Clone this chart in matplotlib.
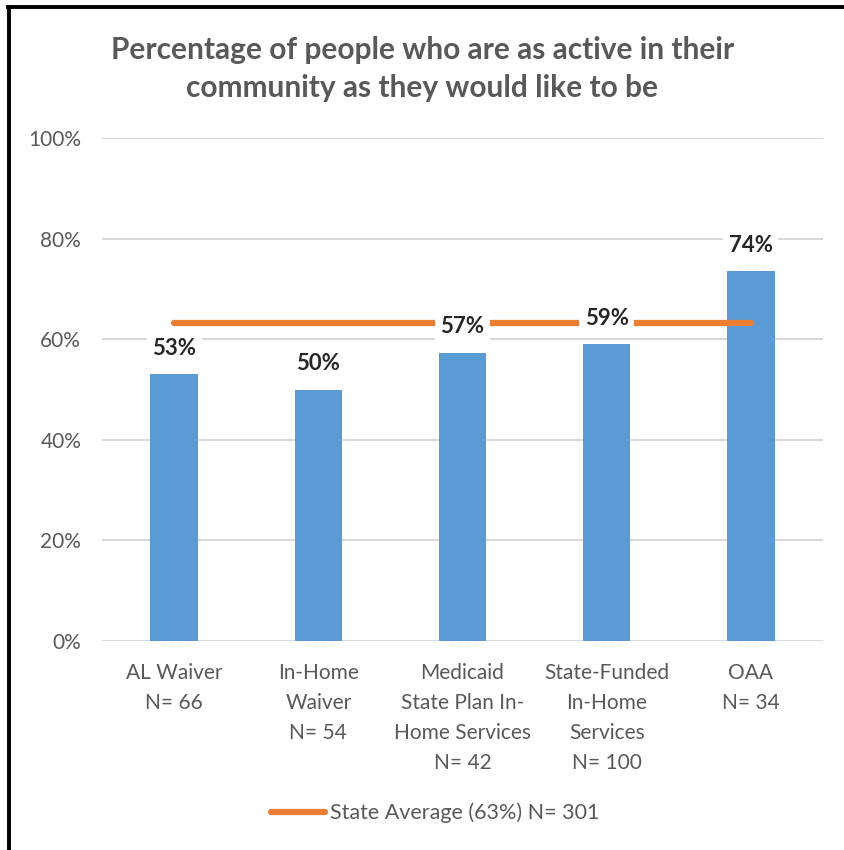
import matplotlib.pyplot as plt
from matplotlib.lines import Line2D
from matplotlib.ticker import PercentFormatter

plt.rcParams["font.family"] = ["Lato", "DejaVu Sans"]

categories = [
    "AL Waiver\nN= 66",
    "In-Home\nWaiver\nN= 54",
    "Medicaid\nState Plan In-\nHome Services\nN= 42",
    "State-Funded\nIn-Home\nServices\nN= 100",
    "OAA\nN= 34",
]
values = [0.53, 0.50, 0.573, 0.59, 0.735]
value_labels = ["53%", "50%", "57%", "59%", "74%"]
state_average = 0.632
legend_label = "State Average (63%) N= 301"
title = "Percentage of people who are as active in their\ncommunity as they would like to be"

BLUE = "#5B9BD5"
ORANGE = "#ED7D31"
GREY_TEXT = "#595959"
GRID = "#D9D9D9"

fig = plt.figure(figsize=(8.45, 8.5), dpi=100)
ax = fig.add_axes([102 / 845, 1 - 641 / 850, (823 - 102) / 845, (641 - 138) / 850])

x = list(range(len(categories)))
ax.bar(x, values, width=0.33, color=BLUE, zorder=2)
(avg_line,) = ax.plot(
    x,
    [state_average] * len(x),
    color=ORANGE,
    linewidth=4.5,
    solid_capstyle="round",
    zorder=3,
    label=legend_label,
)

for xi, v, lab in zip(x, values, value_labels):
    ax.annotate(
        lab,
        (xi, v),
        xytext=(0, 26),
        textcoords="offset pixels",
        ha="center",
        va="center",
        fontsize=16,
        fontweight="bold",
        color="#262626",
        bbox=dict(boxstyle="square,pad=0.25", facecolor="white", edgecolor="none"),
        zorder=4,
    )

ax.set_xlim(-0.5, len(categories) - 0.5)
ax.set_ylim(0, 1)
ax.set_yticks([0, 0.2, 0.4, 0.6, 0.8, 1.0])
ax.yaxis.set_major_formatter(PercentFormatter(1.0, decimals=0))
ax.set_xticks(x)
ax.set_xticklabels(categories, fontsize=15, color=GREY_TEXT, linespacing=1.62, va="top")
ax.tick_params(axis="both", length=0, labelcolor=GREY_TEXT)
ax.tick_params(axis="y", labelsize=15, pad=15)
ax.tick_params(axis="x", pad=16)
ax.grid(axis="y", color=GRID, linewidth=1.5, zorder=0)
ax.set_axisbelow(True)
for side in ["top", "right", "left", "bottom"]:
    ax.spines[side].set_visible(False)

fig.text(0.5, 1 - 69 / 850, title, ha="center", va="center", fontsize=21.5,
         fontweight="bold", color=GREY_TEXT, linespacing=1.4)

fig.legend(
    handles=[avg_line],
    loc="center",
    bbox_to_anchor=(0.515, 1 - 813 / 850),
    frameon=False,
    fontsize=15.5,
    labelcolor=GREY_TEXT,
    handlelength=2.5,
    handletextpad=0.2,
)

# outer frame, top and left edges only
fig.add_artist(Line2D([9 / 845, 9 / 845], [0, 1 - 7 / 850], color="black", linewidth=2.8,
                      transform=fig.transFigure))
fig.add_artist(Line2D([8 / 845, 1], [1 - 7 / 850, 1 - 7 / 850], color="black", linewidth=2.8,
                      transform=fig.transFigure))

fig.savefig("out.png", dpi=100)
